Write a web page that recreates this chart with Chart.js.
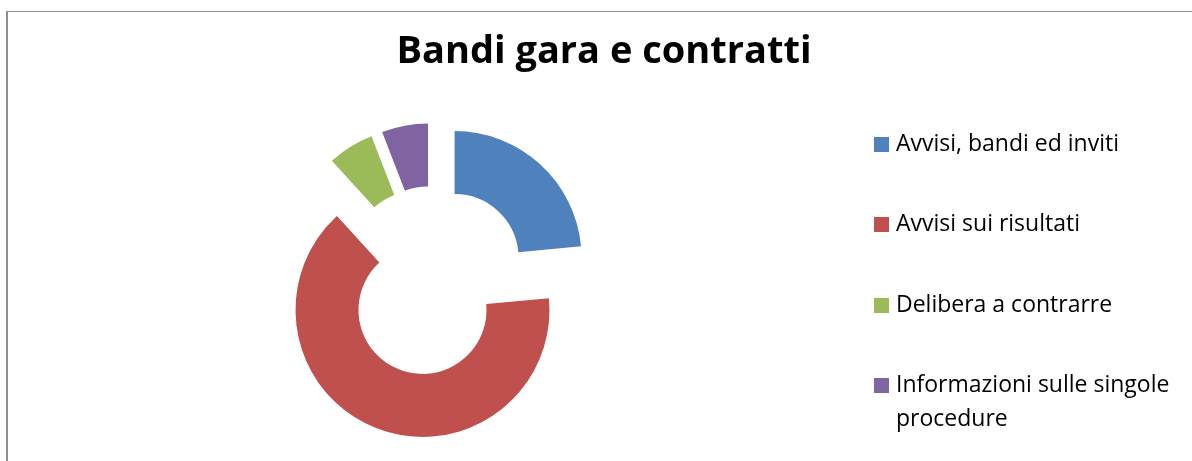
<!DOCTYPE html>
<html>
<head>
<meta charset="utf-8">
<script src="https://cdn.jsdelivr.net/npm/chart.js@4"></script>
<style>
  html, body { margin: 0; padding: 0; background: #fff; }
  #wrap { position: relative; width: 1192px; height: 461px; overflow: hidden; }
  #frame {
    position: absolute; left: 6px; top: 11px; width: 1200px; height: 470px;
    border-left: 2px solid #8e8e8e; border-top: 1px solid #8e8e8e;
    pointer-events: none;
  }
</style>
</head>
<body>
<div id="wrap">
  <canvas id="garaChart" width="1192" height="461"></canvas>
  <div id="frame"></div>
</div>
<script>
const categories = [
    'Avvisi, bandi ed inviti',
    'Avvisi sui risultati',
    'Delibera a contrarre',
    'Informazioni sulle singole procedure',
];
const counts = [4, 11, 1, 1];
const colors = ['#4F81BD', '#C0504D', '#9BBB59', '#8064A2'];

// distanza di "esplosione" delle fette dal centro, in px
const EXPLODE = 31;

// pannello legenda a destra
const LEGEND_WIDTH = 340.6;
const LEGEND_FONT = '23px "Open Sans"';
const ROW_STEP = 80.5;  // distanza tra le voci
const LINE_STEP = 34;   // interlinea quando una voce va a capo
const MARKER = 15;

// disegna ogni fetta spostata lungo la sua bisettrice
const explodeSlices = {
    id: 'explodeSlices',
    beforeDatasetDraw(chart, args) {
        const ctx = chart.ctx;
        args.meta.data.forEach(arc => {
            const mid = (arc.startAngle + arc.endAngle) / 2;
            ctx.save();
            ctx.translate(Math.cos(mid) * EXPLODE, Math.sin(mid) * EXPLODE);
            arc.draw(ctx);
            ctx.restore();
        });
        return false;
    }
};

function wrapText(ctx, text, maxWidth) {
    const lines = [];
    let line = '';
    text.split(' ').forEach(word => {
        const test = line ? line + ' ' + word : word;
        if (line && ctx.measureText(test).width > maxWidth) {
            lines.push(line);
            line = word;
        } else {
            line = test;
        }
    });
    lines.push(line);
    return lines;
}

// box di layout a larghezza fissa: riserva lo spazio e ci disegna la legenda
const legendPanel = {
    id: 'legendPanel',
    beforeInit(chart) {
        Chart.layouts.addBox(chart, {
            position: 'right',
            fullSize: false,
            weight: 0,
            options: {},
            isHorizontal() { return false; },
            update(maxWidth, maxHeight) {
                this.width = LEGEND_WIDTH;
                this.height = maxHeight;
            },
            draw() {
                const ctx = chart.ctx;
                const bg = chart.data.datasets[0].backgroundColor;
                const markerX = this.left + 22.6;
                const textX = markerX + MARKER + 7;
                ctx.save();
                ctx.font = LEGEND_FONT;
                ctx.textBaseline = 'middle';
                ctx.textAlign = 'left';
                const entries = chart.data.labels.map(l => wrapText(ctx, l, this.right - textX - 6));
                const span = (entries.length - 1) * ROW_STEP + (entries[entries.length - 1].length - 1) * LINE_STEP;
                let y = (this.top + this.bottom) / 2 - span / 2 + 1;
                entries.forEach((lines, i) => {
                    ctx.fillStyle = bg[i];
                    ctx.fillRect(markerX, Math.round(y - MARKER / 2), MARKER, MARKER);
                    ctx.fillStyle = '#000';
                    lines.forEach((ln, j) => ctx.fillText(ln, textX, y + j * LINE_STEP));
                    y += ROW_STEP;
                });
                ctx.restore();
            }
        });
    }
};

const ctx = document.getElementById('garaChart').getContext('2d');
const garaChart = new Chart(ctx, {
    type: 'doughnut',
    data: {
        labels: categories,
        datasets: [
            {
                data: counts,
                backgroundColor: colors,
                borderWidth: 0,
                radius: 127,
                cutout: '50.4%',
            },
        ],
    },
    options: {
        responsive: false,
        animation: false,
        layout: {
            padding: { left: 16, right: 0, top: 0, bottom: 0 },
        },
        plugins: {
            title: {
                display: true,
                text: 'Bandi gara e contratti',
                color: '#000',
                font: { family: 'Open Sans', size: 38, weight: 'bold', lineHeight: 1.2 },
                padding: { top: 29.8, bottom: 25.6 },
            },
            legend: { display: false },
            tooltip: { enabled: false },
        },
    },
    plugins: [explodeSlices, legendPanel],
});
</script>
</body>
</html>
